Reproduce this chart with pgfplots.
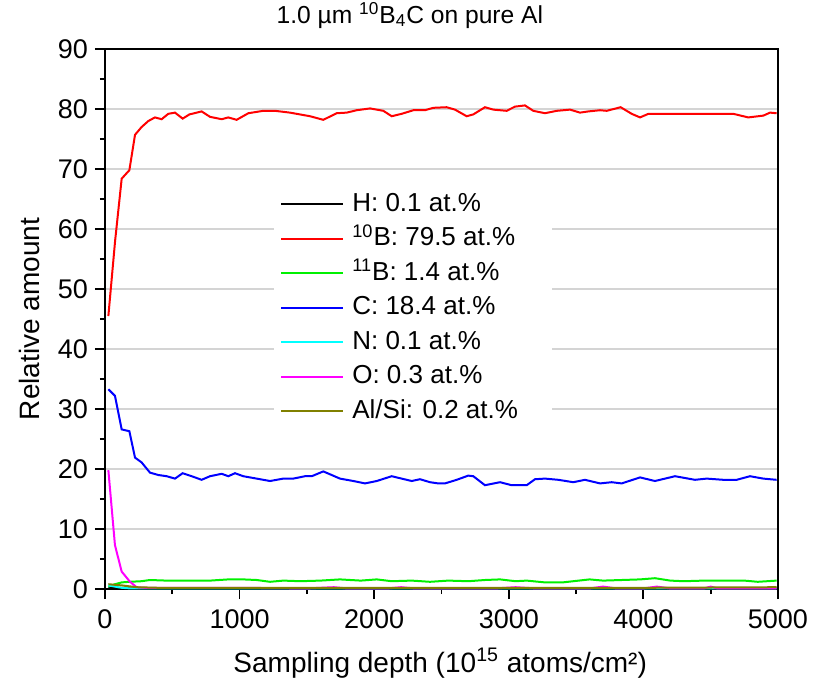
\documentclass[border=0pt]{standalone}
\usepackage{fontspec}
\setmainfont{Liberation Sans}
\usepackage{pgfplots}
\pgfplotsset{compat=1.18}
\definecolor{olivec}{RGB}{128,128,0}
\definecolor{cyanc}{RGB}{0,255,255}
\definecolor{magentac}{RGB}{255,0,255}
\definecolor{greenc}{RGB}{0,240,0}
\definecolor{bluec}{RGB}{0,0,255}
\definecolor{redc}{RGB}{255,0,0}
\definecolor{gridc}{RGB}{212,212,212}
\begin{document}
\begin{tikzpicture}
\path[use as bounding box] (-52.5pt,-46.5pt) rectangle (354.5pt,294.5pt);
\begin{axis}[
  at={(0pt,0pt)}, anchor=south west,
  scale only axis, width=336.5pt, height=270pt,
  xmin=0, xmax=5000, ymin=0, ymax=90,
  xtick={0,1000,2000,3000,4000,5000},
  ytick={0,10,20,30,40,50,60,70,80,90},
  minor x tick num=1, minor y tick num=1,
  tick align=outside, xtick pos=bottom, ytick pos=left,
  major tick length=5pt, minor tick length=2.5pt,
  tick style={black, line width=0.9pt},
  axis line style={line width=0.9pt},
  ymajorgrids, grid style={gridc, line width=0.8pt},
  /pgf/number format/assume math mode=true,
  /pgf/number format/set thousands separator={},
  ticklabel style={font=\fontsize{13.5}{16}\selectfont},
  xticklabel style={yshift=-2pt},
  xlabel={Sampling depth (10\textsuperscript{15} atoms/cm²)},
  ylabel={Relative amount},
  xlabel style={font=\fontsize{14}{16}\selectfont, at={(rel axis cs:0.498,0)}, anchor=base, yshift=-41.5pt},
  ylabel style={font=\fontsize{14}{16}\selectfont, at={(rel axis cs:0,0.5)}, anchor=base, yshift=32.5pt},
  title={1.0 µm \textsuperscript{10}B\textsubscript{4}C on pure Al},
  title style={font=\fontsize{12.3}{14}\selectfont, at={(rel axis cs:0.453,1)}, anchor=base, yshift=7pt},
  legend image code/.code={\draw[#1, line width=1pt] (0pt,0pt) -- (31pt,0pt);},
  legend style={at={(rel axis cs:0.251,0.741)}, anchor=north west, draw=none, fill=white,
    inner xsep=3pt, inner ysep=1pt, row sep=4.25pt,
    font=\fontsize{13}{15}\selectfont,
    nodes={inner sep=0pt, text height=10pt, text depth=3pt},
    /tikz/every odd column/.append style={column sep=4pt}},
  legend cell align=left,
  every axis plot/.append style={line width=1pt},
]
\addplot[black] coordinates {(25,0.2)(124,0.1)(500,0.1)(1000,0.1)(2000,0.1)(3000,0.1)(4000,0.1)(4990,0.1)};
\addlegendentry{H: 0.1 at.\%}
\addplot[redc] coordinates {(25,45.5)(75,58)(124,68.4)(181,69.8)(223,75.7)(272,77)(322,78)(371,78.6)(421,78.3)(470,79.2)(520,79.4)(577,78.4)(627,79.1)(718,79.6)(780,78.7)(867,78.3)(916,78.6)(978,78.2)(1065,79.3)(1176,79.7)(1263,79.7)(1374,79.4)(1523,78.8)(1622,78.2)(1721,79.3)(1796,79.4)(1870,79.8)(1969,80.1)(2068,79.7)(2130,78.8)(2204,79.2)(2291,79.8)(2377,79.8)(2439,80.2)(2538,80.3)(2600,79.9)(2687,78.8)(2736,79.1)(2823,80.3)(2885,79.9)(2984,79.7)(3046,80.4)(3120,80.6)(3182,79.7)(3269,79.3)(3356,79.7)(3455,79.9)(3529,79.4)(3591,79.6)(3678,79.8)(3727,79.7)(3831,80.3)(3913,79.2)(3975,78.6)(4037,79.2)(4668,79.2)(4779,78.6)(4891,78.9)(4941,79.4)(4990,79.3)};
\addlegendentry{\textsuperscript{10}B: 79.5 at.\%}
\addplot[greenc] coordinates {(25,0.4)(74,0.8)(124,1.1)(181,1.2)(272,1.3)(334,1.5)(458,1.4)(600,1.4)(780,1.4)(916,1.6)(1027,1.6)(1127,1.5)(1226,1.2)(1325,1.4)(1450,1.3)(1600,1.4)(1746,1.6)(1900,1.4)(2019,1.6)(2130,1.3)(2279,1.4)(2415,1.2)(2550,1.4)(2700,1.3)(2823,1.5)(2935,1.6)(3050,1.3)(3133,1.4)(3269,1.1)(3400,1.1)(3480,1.3)(3600,1.6)(3700,1.4)(3839,1.5)(3975,1.6)(4086,1.8)(4200,1.4)(4300,1.3)(4450,1.4)(4600,1.4)(4750,1.4)(4850,1.2)(4990,1.4)};
\addlegendentry{\textsuperscript{11}B: 1.4 at.\%}
\addplot[bluec] coordinates {(25,33.3)(74,32.2)(124,26.6)(181,26.3)(223,21.9)(272,21.1)(334,19.4)(396,19.0)(458,18.8)(520,18.4)(577,19.3)(644,18.8)(718,18.2)(780,18.8)(867,19.2)(916,18.8)(966,19.3)(1027,18.8)(1127,18.4)(1226,18.0)(1325,18.4)(1399,18.4)(1486,18.8)(1536,18.8)(1622,19.6)(1746,18.4)(1845,18.0)(1932,17.6)(2019,18.0)(2130,18.8)(2204,18.4)(2279,18.0)(2340,18.3)(2415,17.8)(2476,17.6)(2526,17.6)(2613,18.2)(2699,18.9)(2736,18.8)(2823,17.3)(2935,17.8)(3021,17.3)(3133,17.3)(3195,18.3)(3269,18.4)(3368,18.2)(3479,17.8)(3566,18.2)(3678,17.6)(3764,17.8)(3839,17.6)(3975,18.6)(4086,18.0)(4235,18.8)(4383,18.2)(4470,18.4)(4594,18.2)(4693,18.2)(4792,18.8)(4891,18.4)(4990,18.2)};
\addlegendentry{C: 18.4 at.\%}
\addplot[cyanc] coordinates {(25,0.6)(74,0.4)(124,0.2)(186,0.1)(1000,0.1)(2000,0.1)(3000,0.1)(4000,0.1)(4990,0.1)};
\addlegendentry{N: 0.1 at.\%}
\addplot[magentac] coordinates {(25,19.8)(74,7.3)(124,2.9)(186,1.2)(235,0.3)(300,0.2)(600,0.2)(1000,0.2)(1500,0.1)(1700,0.3)(1800,0.1)(2100,0.1)(2200,0.3)(2300,0.1)(2900,0.1)(3050,0.3)(3200,0.1)(3600,0.1)(3700,0.4)(3800,0.1)(4000,0.1)(4100,0.4)(4200,0.1)(4450,0.1)(4500,0.4)(4550,0.1)(4990,0.1)};
\addlegendentry{O: 0.3 at.\%}
\addplot[olivec] coordinates {(25,0.8)(124,0.6)(235,0.3)(400,0.2)(1000,0.2)(2000,0.2)(3000,0.2)(4000,0.2)(4990,0.3)};
\addlegendentry{Al/Si: 0.2 at.\%\hspace*{14pt}}
\end{axis}
\end{tikzpicture}
\end{document}
